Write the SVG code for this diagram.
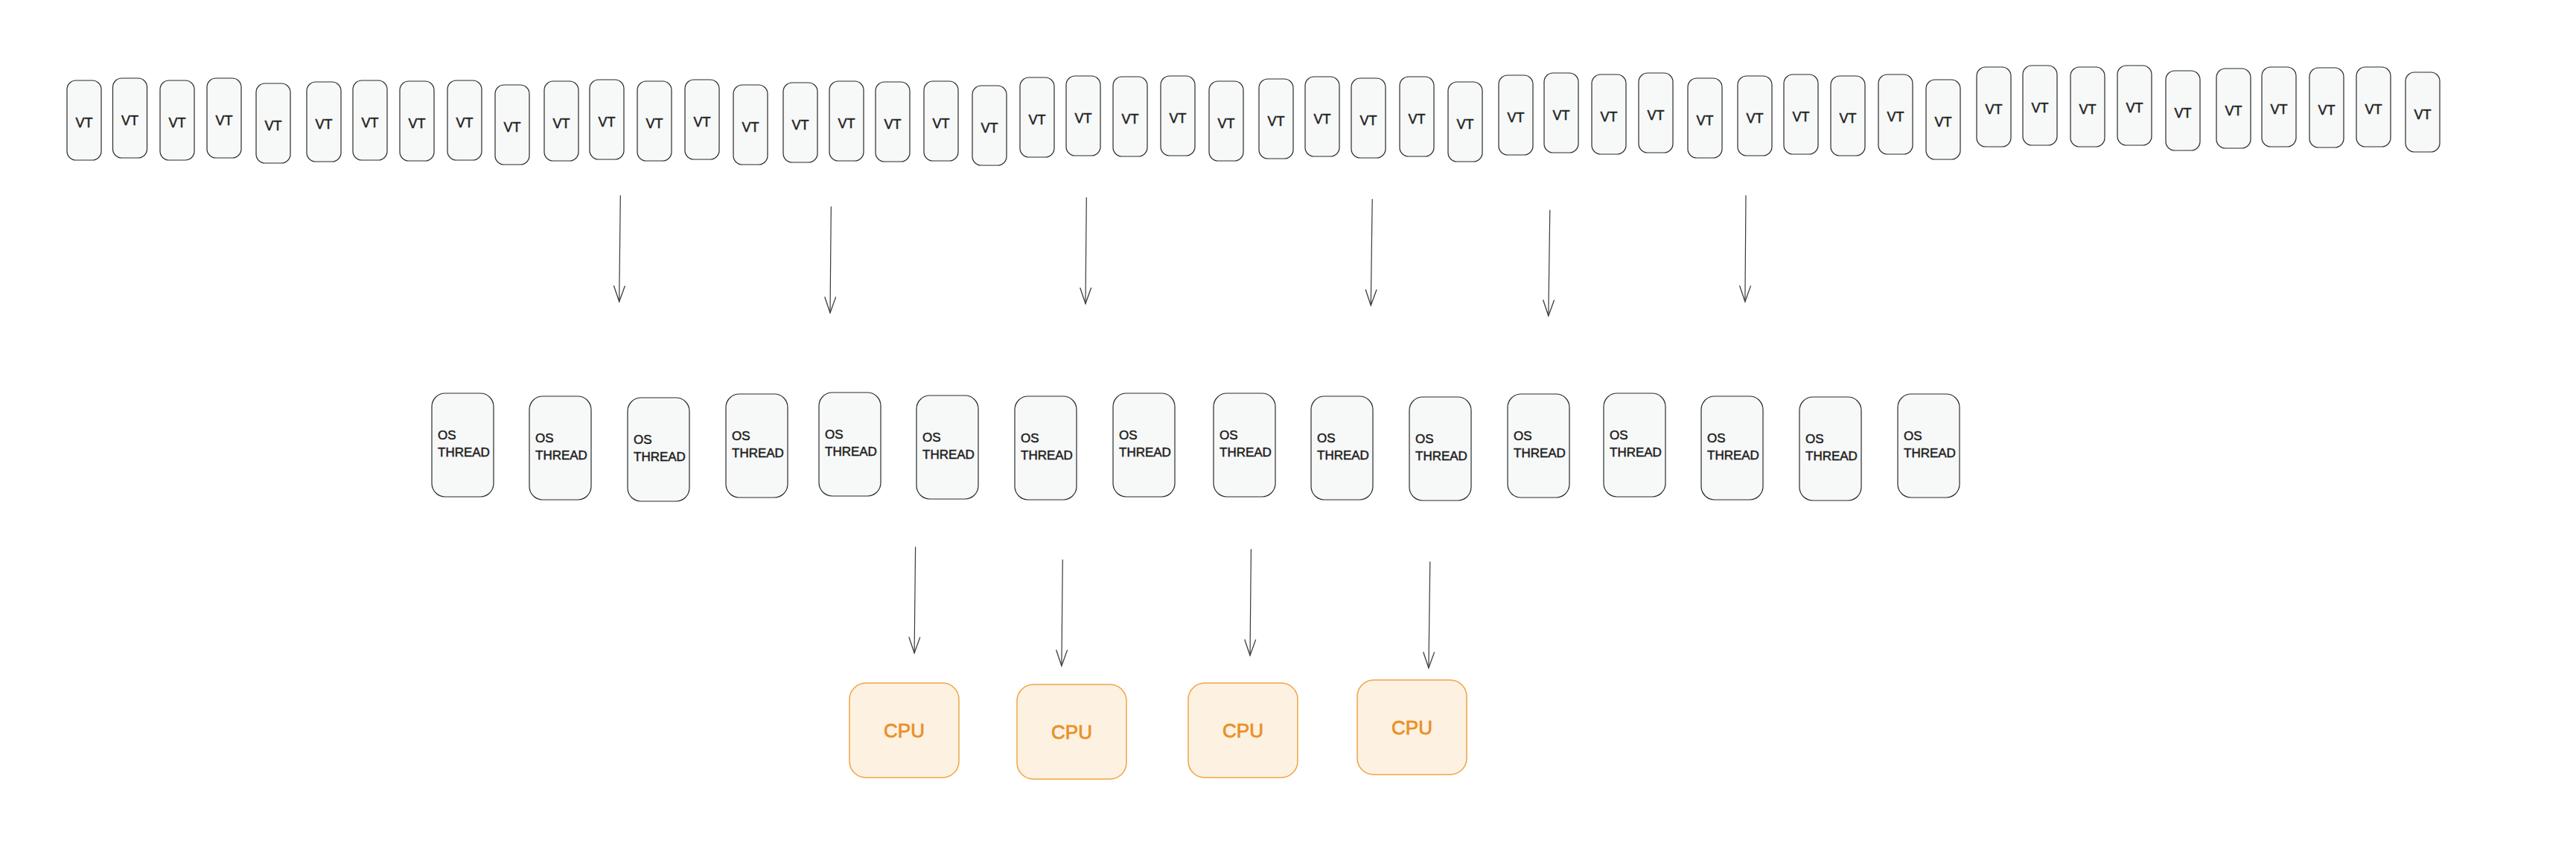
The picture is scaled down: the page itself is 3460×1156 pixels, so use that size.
<svg xmlns="http://www.w3.org/2000/svg" width="3460" height="1156" viewBox="0 0 3460 1156">
<style>
.vt rect{fill:#f7f8f8;stroke:#2b2b2b;stroke-width:1.2}
.vt text{font-family:"Liberation Sans",Arial,sans-serif;font-size:18px;fill:#1e1e1e;stroke:#1e1e1e;stroke-width:0.5;text-anchor:middle}
.os rect{fill:#f7f8f8;stroke:#2b2b2b;stroke-width:1.2}
.os text{font-family:"Liberation Sans",Arial,sans-serif;font-size:17px;fill:#1e1e1e;stroke:#1e1e1e;stroke-width:0.5}
.cpu rect{fill:#fdf1e1;stroke:#f0a544;stroke-width:1.5}
.cpu text{font-family:"Liberation Sans",Arial,sans-serif;font-size:26px;fill:#e8912a;stroke:#e8912a;stroke-width:0.8;text-anchor:middle}
.conn line{stroke:#3a3a3a;stroke-width:1.2;fill:none;marker-end:url(#arr)}
</style>
<defs>
<marker id="arr" markerUnits="userSpaceOnUse" markerWidth="30" markerHeight="30" viewBox="-24 -12 28 24" refX="0" refY="0" orient="auto">
<path d="M-20,-7 L0,0 L-20,7" fill="none" stroke="#3a3a3a" stroke-width="1.2"/>
</marker>
</defs>
<rect width="3460" height="1156" fill="#ffffff"/>
<g id="vt-row">
<g id="vt1" class="vt"><rect x="90" y="108" width="46" height="107" rx="12"/><text x="113" y="171">VT</text></g>
<g id="vt2" class="vt"><rect x="151.5" y="105" width="46" height="107" rx="12"/><text x="174.5" y="168">VT</text></g>
<g id="vt3" class="vt"><rect x="215" y="108" width="46" height="107" rx="12"/><text x="238" y="171">VT</text></g>
<g id="vt4" class="vt"><rect x="278" y="105" width="46" height="107" rx="12"/><text x="301" y="168">VT</text></g>
<g id="vt5" class="vt"><rect x="344" y="112" width="46" height="107" rx="12"/><text x="367" y="175">VT</text></g>
<g id="vt6" class="vt"><rect x="412" y="110" width="46" height="107" rx="12"/><text x="435" y="173">VT</text></g>
<g id="vt7" class="vt"><rect x="474" y="108" width="46" height="107" rx="12"/><text x="497" y="171">VT</text></g>
<g id="vt8" class="vt"><rect x="537" y="109" width="46" height="107" rx="12"/><text x="560" y="172">VT</text></g>
<g id="vt9" class="vt"><rect x="601" y="108" width="46" height="107" rx="12"/><text x="624" y="171">VT</text></g>
<g id="vt10" class="vt"><rect x="665" y="114" width="46" height="107" rx="12"/><text x="688" y="177">VT</text></g>
<g id="vt11" class="vt"><rect x="731" y="109" width="46" height="107" rx="12"/><text x="754" y="172">VT</text></g>
<g id="vt12" class="vt"><rect x="792" y="107" width="46" height="107" rx="12"/><text x="815" y="170">VT</text></g>
<g id="vt13" class="vt"><rect x="856" y="109" width="46" height="107" rx="12"/><text x="879" y="172">VT</text></g>
<g id="vt14" class="vt"><rect x="920" y="107" width="46" height="107" rx="12"/><text x="943" y="170">VT</text></g>
<g id="vt15" class="vt"><rect x="985" y="114" width="46" height="107" rx="12"/><text x="1008" y="177">VT</text></g>
<g id="vt16" class="vt"><rect x="1052" y="111" width="46" height="107" rx="12"/><text x="1075" y="174">VT</text></g>
<g id="vt17" class="vt"><rect x="1114" y="109" width="46" height="107" rx="12"/><text x="1137" y="172">VT</text></g>
<g id="vt18" class="vt"><rect x="1176" y="110" width="46" height="107" rx="12"/><text x="1199" y="173">VT</text></g>
<g id="vt19" class="vt"><rect x="1241" y="109" width="46" height="107" rx="12"/><text x="1264" y="172">VT</text></g>
<g id="vt20" class="vt"><rect x="1306" y="115" width="46" height="107" rx="12"/><text x="1329" y="178">VT</text></g>
<g id="vt21" class="vt"><rect x="1370" y="104" width="46" height="107" rx="12"/><text x="1393" y="167">VT</text></g>
<g id="vt22" class="vt"><rect x="1432" y="102" width="46" height="107" rx="12"/><text x="1455" y="165">VT</text></g>
<g id="vt23" class="vt"><rect x="1495" y="103" width="46" height="107" rx="12"/><text x="1518" y="166">VT</text></g>
<g id="vt24" class="vt"><rect x="1559" y="102" width="46" height="107" rx="12"/><text x="1582" y="165">VT</text></g>
<g id="vt25" class="vt"><rect x="1624" y="109" width="46" height="107" rx="12"/><text x="1647" y="172">VT</text></g>
<g id="vt26" class="vt"><rect x="1691" y="106" width="46" height="107" rx="12"/><text x="1714" y="169">VT</text></g>
<g id="vt27" class="vt"><rect x="1753" y="103" width="46" height="107" rx="12"/><text x="1776" y="166">VT</text></g>
<g id="vt28" class="vt"><rect x="1815" y="105" width="46" height="107" rx="12"/><text x="1838" y="168">VT</text></g>
<g id="vt29" class="vt"><rect x="1880" y="103" width="46" height="107" rx="12"/><text x="1903" y="166">VT</text></g>
<g id="vt30" class="vt"><rect x="1945" y="110" width="46" height="107" rx="12"/><text x="1968" y="173">VT</text></g>
<g id="vt31" class="vt"><rect x="2013" y="101" width="46" height="107" rx="12"/><text x="2036" y="164">VT</text></g>
<g id="vt32" class="vt"><rect x="2074" y="98" width="46" height="107" rx="12"/><text x="2097" y="161">VT</text></g>
<g id="vt33" class="vt"><rect x="2138" y="100" width="46" height="107" rx="12"/><text x="2161" y="163">VT</text></g>
<g id="vt34" class="vt"><rect x="2201" y="98" width="46" height="107" rx="12"/><text x="2224" y="161">VT</text></g>
<g id="vt35" class="vt"><rect x="2267" y="105" width="46" height="107" rx="12"/><text x="2290" y="168">VT</text></g>
<g id="vt36" class="vt"><rect x="2334" y="102" width="46" height="107" rx="12"/><text x="2357" y="165">VT</text></g>
<g id="vt37" class="vt"><rect x="2396" y="100" width="46" height="107" rx="12"/><text x="2419" y="163">VT</text></g>
<g id="vt38" class="vt"><rect x="2459" y="102" width="46" height="107" rx="12"/><text x="2482" y="165">VT</text></g>
<g id="vt39" class="vt"><rect x="2523" y="100" width="46" height="107" rx="12"/><text x="2546" y="163">VT</text></g>
<g id="vt40" class="vt"><rect x="2587" y="107" width="46" height="107" rx="12"/><text x="2610" y="170">VT</text></g>
<g id="vt41" class="vt"><rect x="2655" y="90" width="46" height="107" rx="12"/><text x="2678" y="153">VT</text></g>
<g id="vt42" class="vt"><rect x="2717" y="88" width="46" height="107" rx="12"/><text x="2740" y="151">VT</text></g>
<g id="vt43" class="vt"><rect x="2781" y="90" width="46" height="107" rx="12"/><text x="2804" y="153">VT</text></g>
<g id="vt44" class="vt"><rect x="2844" y="88" width="46" height="107" rx="12"/><text x="2867" y="151">VT</text></g>
<g id="vt45" class="vt"><rect x="2909" y="95" width="46" height="107" rx="12"/><text x="2932" y="158">VT</text></g>
<g id="vt46" class="vt"><rect x="2977" y="92" width="46" height="107" rx="12"/><text x="3000" y="155">VT</text></g>
<g id="vt47" class="vt"><rect x="3038" y="90" width="46" height="107" rx="12"/><text x="3061" y="153">VT</text></g>
<g id="vt48" class="vt"><rect x="3102" y="91" width="46" height="107" rx="12"/><text x="3125" y="154">VT</text></g>
<g id="vt49" class="vt"><rect x="3165" y="90" width="46" height="107" rx="12"/><text x="3188" y="153">VT</text></g>
<g id="vt50" class="vt"><rect x="3231" y="97" width="46" height="107" rx="12"/><text x="3254" y="160">VT</text></g>
</g>
<g id="os-row">
<g id="os1" class="os"><rect x="580" y="528" width="83" height="139" rx="18"/><text x="588" y="590">OS</text><text x="588" y="613">THREAD</text></g>
<g id="os2" class="os"><rect x="711" y="532" width="83" height="139" rx="18"/><text x="719" y="594">OS</text><text x="719" y="617">THREAD</text></g>
<g id="os3" class="os"><rect x="843" y="534" width="83" height="139" rx="18"/><text x="851" y="596">OS</text><text x="851" y="619">THREAD</text></g>
<g id="os4" class="os"><rect x="975" y="529" width="83" height="139" rx="18"/><text x="983" y="591">OS</text><text x="983" y="614">THREAD</text></g>
<g id="os5" class="os"><rect x="1100" y="527" width="83" height="139" rx="18"/><text x="1108" y="589">OS</text><text x="1108" y="612">THREAD</text></g>
<g id="os6" class="os"><rect x="1231" y="531" width="83" height="139" rx="18"/><text x="1239" y="593">OS</text><text x="1239" y="616">THREAD</text></g>
<g id="os7" class="os"><rect x="1363" y="532" width="83" height="139" rx="18"/><text x="1371" y="594">OS</text><text x="1371" y="617">THREAD</text></g>
<g id="os8" class="os"><rect x="1495" y="528" width="83" height="139" rx="18"/><text x="1503" y="590">OS</text><text x="1503" y="613">THREAD</text></g>
<g id="os9" class="os"><rect x="1630" y="528" width="83" height="139" rx="18"/><text x="1638" y="590">OS</text><text x="1638" y="613">THREAD</text></g>
<g id="os10" class="os"><rect x="1761" y="532" width="83" height="139" rx="18"/><text x="1769" y="594">OS</text><text x="1769" y="617">THREAD</text></g>
<g id="os11" class="os"><rect x="1893" y="533" width="83" height="139" rx="18"/><text x="1901" y="595">OS</text><text x="1901" y="618">THREAD</text></g>
<g id="os12" class="os"><rect x="2025" y="529" width="83" height="139" rx="18"/><text x="2033" y="591">OS</text><text x="2033" y="614">THREAD</text></g>
<g id="os13" class="os"><rect x="2154" y="528" width="83" height="139" rx="18"/><text x="2162" y="590">OS</text><text x="2162" y="613">THREAD</text></g>
<g id="os14" class="os"><rect x="2285" y="532" width="83" height="139" rx="18"/><text x="2293" y="594">OS</text><text x="2293" y="617">THREAD</text></g>
<g id="os15" class="os"><rect x="2417" y="533" width="83" height="139" rx="18"/><text x="2425" y="595">OS</text><text x="2425" y="618">THREAD</text></g>
<g id="os16" class="os"><rect x="2549" y="529" width="83" height="139" rx="18"/><text x="2557" y="591">OS</text><text x="2557" y="614">THREAD</text></g>
</g>
<g id="cpu-row">
<g id="cpu1" class="cpu"><rect x="1141" y="917" width="147" height="127" rx="22"/><text x="1214.5" y="990">CPU</text></g>
<g id="cpu2" class="cpu"><rect x="1366" y="919" width="147" height="127" rx="22"/><text x="1439.5" y="992">CPU</text></g>
<g id="cpu3" class="cpu"><rect x="1596" y="917" width="147" height="127" rx="22"/><text x="1669.5" y="990">CPU</text></g>
<g id="cpu4" class="cpu"><rect x="1823" y="913" width="147" height="127" rx="22"/><text x="1896.5" y="986">CPU</text></g>
</g>
<g id="connectors" class="conn">
<line x1="833.3" y1="262.3" x2="831.7" y2="405"/>
<line x1="1116.3" y1="277.3" x2="1115" y2="420"/>
<line x1="1459.3" y1="265" x2="1458" y2="407.7"/>
<line x1="1843.2" y1="267.3" x2="1841.3" y2="410"/>
<line x1="2081.8" y1="281.7" x2="2079.8" y2="424"/>
<line x1="2345" y1="262.3" x2="2343.9" y2="405"/>
<line x1="1229.6" y1="734.3" x2="1228.1" y2="876.7"/>
<line x1="1427.3" y1="751.3" x2="1425.9" y2="894"/>
<line x1="1680.4" y1="737.3" x2="1679" y2="880"/>
<line x1="1920.8" y1="754" x2="1918.9" y2="896.7"/>
</g>
</svg>
